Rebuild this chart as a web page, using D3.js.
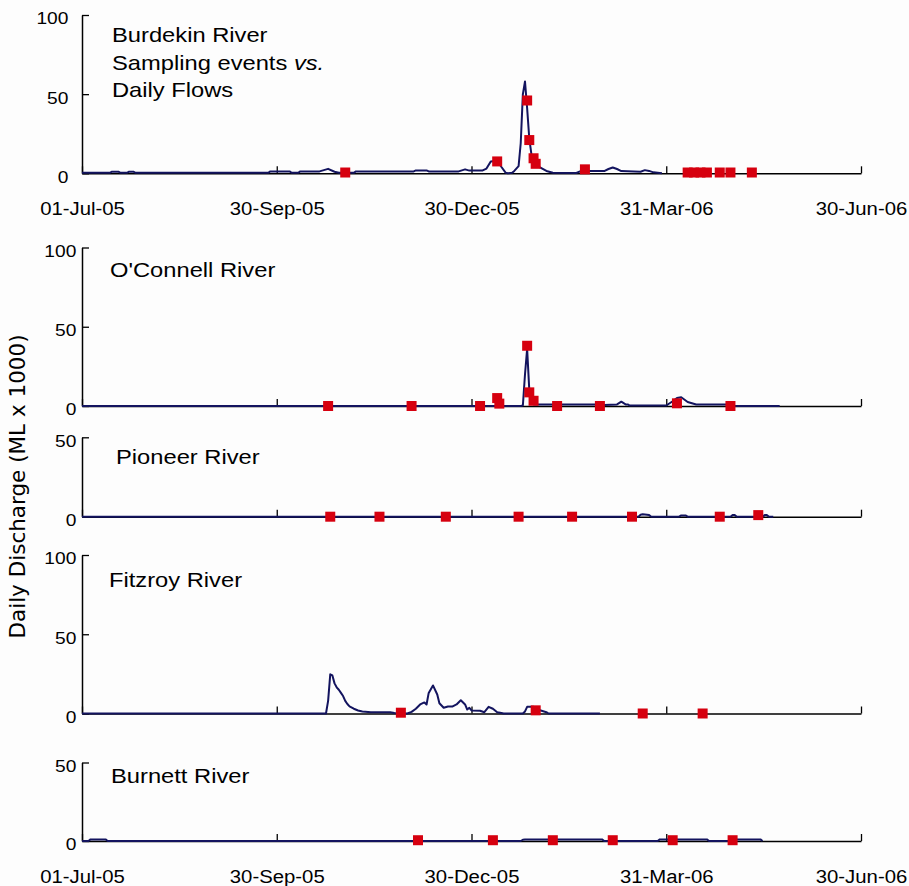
<!DOCTYPE html>
<html>
<head>
<meta charset="utf-8">
<script src="https://cdn.jsdelivr.net/npm/d3@7"></script>
<style>
  body { margin: 0; background: #fdfdfd; }
  svg { display: block; }
</style>
</head>
<body>
<svg id="chart" width="909" height="886"></svg>
<script>
// ---------------- DATA ----------------
const startDate = "2005-07-01";            // day offsets below count from this date
const tickDates = ["2005-07-01", "2005-09-30", "2005-12-30", "2006-03-31", "2006-06-30"];
const rivers = ["Burdekin River", "O'Connell River", "Pioneer River", "Fitzroy River", "Burnett River"];
const yMaxes = [100, 100, 50, 100, 50];
const yLabel = "Daily Discharge (ML x 1000)";

// Daily flows (day offset, discharge ML x 1000)
const burdekinFlowDay = [0, 13, 14, 17, 18, 21, 22, 24, 25, 87, 88, 97, 98, 101, 102, 111, 115, 118, 120, 127, 128, 155, 156, 161, 162, 176, 179, 181, 187, 189, 191, 194, 196, 198, 199, 201, 202, 204, 205, 206, 207, 208, 209, 210, 212, 214, 217, 220, 231, 233, 244, 246, 248, 250, 252, 261, 263, 265, 267, 271];
const burdekinFlow    = [0.3, 0.3, 1, 1, 0.3, 0.3, 1, 1, 0.3, 0.3, 1.2, 1.2, 0.3, 0.3, 1.2, 1.2, 2.8, 1, 0.3, 0.3, 1.2, 1.2, 1.8, 1.8, 1.2, 1.2, 2.5, 1.7, 1.7, 3, 7.5, 8, 4, 0.3, 0, 0.3, 1.5, 4.5, 19, 50, 58, 41, 22, 12, 6, 3.7, 1.5, 0.4, 0.2, 1.4, 1.4, 2.7, 3.7, 2.7, 1.4, 1, 2, 1.5, 0.6, 0];

const oconnellFlowDay = [0, 205, 206, 207, 208, 209, 210, 211, 240, 241, 250, 252, 254, 255, 256, 273, 276, 278, 280, 283, 287, 304, 305, 326];
const oconnellFlow    = [0, 0, 0.3, 20, 36, 10, 2.5, 1, 1, 0.5, 1, 2.7, 1, 1, 0.3, 0.3, 3, 5, 5.5, 2.5, 1, 1, 0, 0];

const pioneerFlowDay = [0, 260, 261, 262, 265, 266, 279, 280, 282, 283, 303, 304, 305, 306, 318, 319, 320, 321, 323];
const pioneerFlow    = [0, 0, 1.2, 1.5, 1, 0, 0, 0.8, 0.8, 0, 0, 1, 1, 0, 0, 1, 1, 0, 0];

const fitzroyFlowDay = [0, 114, 115, 116, 117, 118, 119, 120, 121, 122, 123, 124, 125, 127, 129, 131, 135, 144, 146, 152, 154, 156, 158, 160, 161, 162, 164, 166, 167, 169, 171, 173, 175, 177, 179, 180, 181, 182, 186, 188, 190, 192, 194, 196, 197, 206, 207, 208, 211, 214, 217, 218, 242];
const fitzroyFlow    = [0, 0, 8, 24.7, 24, 19, 16.5, 15, 13, 11, 8, 6, 4.5, 3, 1.9, 1.3, 0.8, 0.8, 0.3, 0, 1, 3, 5.7, 7, 5.7, 13, 17.7, 12, 6.5, 3.6, 4.4, 4.4, 5.7, 8.4, 5.7, 2.5, 3.6, 1.9, 1.7, 0.8, 4.2, 3, 0.8, 0.3, 0, 0, 1.3, 4.2, 4.2, 2, 0.8, 0, 0];

const burnettFlowDay = [0, 3, 4, 11, 12, 190, 191, 193, 194, 205, 206, 207, 243, 244, 269, 270, 292, 293, 304, 305, 317, 318];
const burnettFlow    = [0, 0, 1, 1, 0, 0, 0.5, 0.5, 0, 0, 0.8, 1, 1, 0, 0, 1, 1, 0, 0, 1, 1, 0];

// Sampling events (day offset, discharge ML x 1000)
const burdekinSampleDay = [123, 194, 208, 209, 211, 212, 235, 283, 286, 289, 292, 298, 303, 313];
const burdekinSample    = [0.5, 7.5, 46, 21, 9.5, 6, 2.5, 0.5, 0.5, 0.5, 0.5, 0.5, 0.5, 0.5];

const oconnellSampleDay = [115, 154, 186, 194, 195, 208, 209, 211, 222, 242, 278, 303];
const oconnellSample    = [0, 0, 0, 5, 1.5, 38, 8.6, 3.3, 0, 0, 1.7, 0];

const pioneerSampleDay = [116, 139, 170, 204, 229, 257, 298, 316];
const pioneerSample    = [0, 0, 0, 0, 0, 0, 0, 1];

const fitzroySampleDay = [149, 212, 262, 290];
const fitzroySample    = [0.5, 2, 0, 0];

const burnettSampleDay = [157, 192, 220, 248, 276, 304];
const burnettSample    = [0.5, 0.5, 0.5, 0.5, 0.5, 0.5];

// ---------------- CHART ----------------
const flowDays = [burdekinFlowDay, oconnellFlowDay, pioneerFlowDay, fitzroyFlowDay, burnettFlowDay];
const flowVals = [burdekinFlow, oconnellFlow, pioneerFlow, fitzroyFlow, burnettFlow];
const sampDays = [burdekinSampleDay, oconnellSampleDay, pioneerSampleDay, fitzroySampleDay, burnettSampleDay];
const sampVals = [burdekinSample, oconnellSample, pioneerSample, fitzroySample, burnettSample];

const SX = 1.13;            // horizontal stretch of text in the reference
const FONT = "'Liberation Sans', Arial, Helvetica, sans-serif";
const LINE = "#13145f";
const RED = "#d6000f";

const parse = d3.timeParse("%Y-%m-%d");
const t0 = parse(startDate);
const toDate = d => d3.timeDay.offset(t0, d);
const ticks = tickDates.map(parse);

const svg = d3.select("#chart");
svg.append("rect").attr("width", 909).attr("height", 886).attr("fill", "#fdfdfd");

const x = d3.scaleTime().domain([ticks[0], ticks[ticks.length - 1]]).range([82, 861]);

// layout of the five stacked panels
const layout = [
  { top: 15,    bottom: 173.3, pad: 12, labels: true,  titleX: 112, titleY: [42, 69.5, 97] },
  { top: 247.5, bottom: 406,   pad: 5,  labels: false, titleX: 110, titleY: [277] },
  { top: 437.3, bottom: 516.7, pad: 5,  labels: false, titleX: 116, titleY: [463.5] },
  { top: 555,   bottom: 713.5, pad: 5,  labels: false, titleX: 109, titleY: [587] },
  { top: 762.5, bottom: 841,   pad: 5,  labels: true,  titleX: 111, titleY: [783] }
];

layout.forEach((p, i) => {
  const y = d3.scaleLinear().domain([0, yMaxes[i]]).range([p.bottom, p.top]);
  const g = svg.append("g");

  // x axis
  const xa = d3.axisBottom(x)
    .tickValues(ticks)
    .tickSizeInner(-7)
    .tickSizeOuter(0)
    .tickPadding(29)
    .tickFormat(p.labels ? d3.timeFormat("%d-%b-%y") : () => "");
  const gx = g.append("g").attr("transform", `translate(0,${p.bottom})`).call(xa);
  gx.attr("font-family", FONT).attr("font-size", 18);
  gx.select(".domain").attr("stroke", "#000").attr("stroke-width", 1.5);
  gx.selectAll(".tick line").attr("stroke", "#000").attr("stroke-width", 1.3);
  gx.selectAll(".tick text").attr("fill", "#000").attr("transform", `scale(${SX},1)`);

  // y axis
  const yTicks = yMaxes[i] === 100 ? [0, 50, 100] : [0, 50];
  const ya = d3.axisLeft(y)
    .tickValues(yTicks)
    .tickSizeInner(-7)
    .tickSizeOuter(0)
    .tickPadding(p.pad)
    .tickFormat(d3.format("d"));
  const gy = g.append("g").attr("transform", "translate(82,0)").call(ya);
  gy.attr("font-family", FONT).attr("font-size", 17);
  gy.select(".domain").attr("stroke", "#000").attr("stroke-width", 1.5);
  gy.selectAll(".tick line").attr("stroke", "#000").attr("stroke-width", 1.3);
  gy.selectAll(".tick text").attr("fill", "#000").attr("y", 3.5).attr("transform", `scale(${SX},1)`);

  // flow line
  const flow = flowDays[i].map((d, k) => ({ date: toDate(d), v: flowVals[i][k] }));
  g.append("path")
    .datum(flow)
    .attr("fill", "none")
    .attr("stroke", LINE)
    .attr("stroke-width", 2)
    .attr("stroke-linejoin", "round")
    .attr("d", d3.line().x(d => x(d.date)).y(d => y(d.v)));

  // sampling events
  const samples = sampDays[i].map((d, k) => ({ date: toDate(d), v: sampVals[i][k] }));
  g.selectAll("rect.s").data(samples).enter().append("rect")
    .attr("class", "s")
    .attr("x", d => x(d.date) - 5)
    .attr("y", d => y(d.v) - 5)
    .attr("width", 10)
    .attr("height", 10)
    .attr("fill", RED);

  // titles
  const lines = i === 0 ? [[rivers[0]], ["Sampling events ", "vs."], ["Daily Flows"]] : [[rivers[i]]];
  lines.forEach((parts, li) => {
    const t = g.append("text")
      .attr("transform", `translate(${p.titleX},${p.titleY[li]}) scale(${SX},1)`)
      .attr("font-family", FONT)
      .attr("font-size", 21)
      .attr("fill", "#000");
    parts.forEach((s, pi) => {
      t.append("tspan").text(s).attr("font-style", pi === 1 ? "italic" : "normal");
    });
  });
});

// shared y label
svg.append("text")
  .attr("transform", "translate(25,486.5) rotate(-90)")
  .attr("text-anchor", "middle")
  .attr("font-family", "'DejaVu Sans', Verdana, sans-serif")
  .attr("font-size", 21.5)
  .attr("fill", "#000")
  .text(yLabel);
</script>
</body>
</html>
